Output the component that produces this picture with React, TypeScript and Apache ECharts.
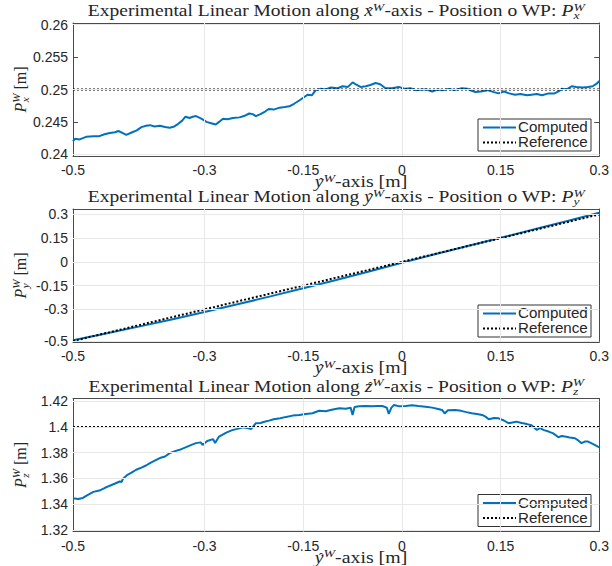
import React, { useEffect, useRef } from "react";
import * as echarts from "echarts";

// ---- ticks ----
const xTicks = [-0.5, -0.3, -0.15, 0, 0.15, 0.3];
const yTicks1 = [0.24, 0.245, 0.25, 0.255, 0.26];
const yTicks2 = [-0.5, -0.3, -0.15, 0, 0.15, 0.3];
const yTicks3 = [1.32, 1.34, 1.36, 1.38, 1.4, 1.42];

// ---- plot 1: P_x ----
const p1X = [-0.5, -0.497, -0.49, -0.48, -0.469, -0.46, -0.452, -0.444, -0.436, -0.431, -0.425, -0.419, -0.41, -0.403, -0.396, -0.389, -0.383, -0.376, -0.368, -0.36, -0.353, -0.346, -0.34, -0.334, -0.329, -0.323, -0.318, -0.313, -0.305, -0.297, -0.29, -0.283, -0.278, -0.272, -0.265, -0.257, -0.247, -0.24, -0.232, -0.227, -0.222, -0.215, -0.208, -0.202, -0.195, -0.186, -0.178, -0.171, -0.164, -0.156, -0.149, -0.143, -0.137, -0.131, -0.124, -0.116, -0.108, -0.098, -0.09, -0.082, -0.075, -0.07, -0.063, -0.055, -0.048, -0.04, -0.033, -0.025, -0.015, -0.005, 0.005, 0.013, 0.021, 0.03, 0.038, 0.046, 0.054, 0.063, 0.071, 0.08, 0.091, 0.1, 0.106, 0.112, 0.12, 0.13, 0.14, 0.147, 0.155, 0.163, 0.172, 0.18, 0.19, 0.197, 0.205, 0.213, 0.223, 0.232, 0.238, 0.243, 0.25, 0.258, 0.265, 0.275, 0.283, 0.29, 0.296, 0.3];
const p1Y = [0.242, 0.2424, 0.2423, 0.2427, 0.2428, 0.2428, 0.2431, 0.2433, 0.2434, 0.2436, 0.2433, 0.243, 0.2434, 0.2437, 0.2442, 0.2444, 0.2445, 0.2443, 0.2444, 0.2442, 0.2441, 0.2443, 0.2447, 0.2452, 0.2458, 0.2456, 0.2458, 0.2459, 0.2455, 0.245, 0.2448, 0.2446, 0.245, 0.2455, 0.2454, 0.2456, 0.2457, 0.2459, 0.2463, 0.2462, 0.2459, 0.2462, 0.2466, 0.247, 0.2469, 0.2472, 0.2473, 0.2474, 0.2478, 0.2483, 0.2488, 0.2492, 0.2491, 0.2499, 0.2501, 0.25, 0.2503, 0.2502, 0.2505, 0.2504, 0.2511, 0.2508, 0.2504, 0.2505, 0.2507, 0.251, 0.2508, 0.2502, 0.2502, 0.2504, 0.2501, 0.2502, 0.2499, 0.25, 0.25, 0.2497, 0.25, 0.2499, 0.2501, 0.2499, 0.2502, 0.2501, 0.2498, 0.2496, 0.2497, 0.2499, 0.2496, 0.2494, 0.2497, 0.2494, 0.2492, 0.2493, 0.2491, 0.2492, 0.2493, 0.2491, 0.2494, 0.2494, 0.2497, 0.2501, 0.25, 0.2505, 0.2504, 0.2503, 0.2504, 0.2505, 0.2509, 0.2513];
const p1RefX = [-0.5, 0.3];
const p1RefY = [0.25, 0.25];

// ---- plot 2: P_y ----
const p2X = [-0.5, -0.45, -0.4, -0.35, -0.3, -0.25, -0.2, -0.15, -0.1, -0.05, 0, 0.05, 0.1, 0.15, 0.2, 0.25, 0.3];
const p2Y = [-0.495, -0.452, -0.409, -0.364, -0.317, -0.268, -0.218, -0.167, -0.115, -0.061, -0.005, 0.048, 0.1, 0.152, 0.204, 0.257, 0.31];
const p2RefX = [-0.5, 0.3];
const p2RefY = [-0.5, 0.3];

// ---- plot 3: P_z ----
const p3X = [-0.5, -0.492, -0.485, -0.478, -0.469, -0.46, -0.452, -0.444, -0.436, -0.429, -0.426, -0.424, -0.418, -0.411, -0.404, -0.396, -0.389, -0.383, -0.375, -0.368, -0.36, -0.353, -0.346, -0.338, -0.328, -0.32, -0.313, -0.306, -0.303, -0.296, -0.287, -0.284, -0.278, -0.267, -0.258, -0.25, -0.242, -0.235, -0.229, -0.222, -0.215, -0.209, -0.202, -0.195, -0.185, -0.176, -0.166, -0.156, -0.146, -0.136, -0.126, -0.116, -0.105, -0.095, -0.085, -0.078, -0.075, -0.072, -0.065, -0.056, -0.045, -0.037, -0.03, -0.023, -0.02, -0.016, -0.012, -0.004, 0.006, 0.015, 0.025, 0.036, 0.046, 0.055, 0.061, 0.065, 0.07, 0.081, 0.09, 0.098, 0.106, 0.114, 0.122, 0.127, 0.132, 0.14, 0.147, 0.155, 0.162, 0.168, 0.174, 0.182, 0.19, 0.197, 0.201, 0.205, 0.21, 0.216, 0.223, 0.23, 0.238, 0.243, 0.248, 0.255, 0.263, 0.268, 0.273, 0.278, 0.283, 0.29, 0.298, 0.3];
const p3Y = [1.3445, 1.344, 1.3448, 1.347, 1.3495, 1.3505, 1.3525, 1.3543, 1.356, 1.3576, 1.3572, 1.3598, 1.3625, 1.3645, 1.3667, 1.3684, 1.37, 1.3719, 1.374, 1.3758, 1.377, 1.3796, 1.381, 1.3822, 1.3843, 1.386, 1.3874, 1.388, 1.386, 1.389, 1.3905, 1.3875, 1.3925, 1.3956, 1.3975, 1.3985, 1.3998, 1.3992, 1.3984, 1.4029, 1.403, 1.404, 1.4049, 1.406, 1.4068, 1.4078, 1.4088, 1.4093, 1.41, 1.4106, 1.4126, 1.4122, 1.4135, 1.4145, 1.4142, 1.415, 1.4093, 1.4155, 1.416, 1.4163, 1.416, 1.4162, 1.4163, 1.415, 1.4101, 1.415, 1.4171, 1.416, 1.4163, 1.4168, 1.4162, 1.4157, 1.415, 1.414, 1.4132, 1.4105, 1.413, 1.4132, 1.4125, 1.4115, 1.4106, 1.41, 1.4093, 1.408, 1.406, 1.407, 1.4067, 1.405, 1.4029, 1.4035, 1.4041, 1.403, 1.4022, 1.4013, 1.3995, 1.3977, 1.399, 1.3975, 1.3964, 1.395, 1.392, 1.393, 1.3925, 1.3918, 1.3912, 1.3895, 1.3874, 1.3886, 1.3886, 1.3868, 1.3847, 1.3842];
const p3RefX = [-0.5, 0.3];
const p3RefY = [1.4, 1.4];

const seriesNames = ["Computed", "Reference"];
const titleAxes = ["x", "y", "z"];
const subs = ["x", "y", "z"];

const BLUE = "#0072BD";
const AX = "#4a4a4a";
const GRIDC = "#e8e8e8";
const TXT = "#262626";
const SANS = "Liberation Sans, Arial, sans-serif";
const SERIF = "Liberation Serif, Times New Roman, serif";

const zip = (xs: number[], ys: number[]) => xs.map((x, i) => [x, ys[i]]);

const panels = [
  { top: 23, yMin: 0.23974, yMax: 0.26026, yTicks: yTicks1, cx: p1X, cy: p1Y, rx: p1RefX, ry: p1RefY },
  { top: 209, yMin: -0.506, yMax: 0.334, yTicks: yTicks2, cx: p2X, cy: p2Y, rx: p2RefX, ry: p2RefY },
  { top: 398.5, yMin: 1.3187, yMax: 1.4221, yTicks: yTicks3, cx: p3X, cy: p3Y, rx: p3RefX, ry: p3RefY },
];
const LEFT = 73;
const WIDTH = 526.5;
const HEIGHT = 133;
const FS = 16;
const SUB = FS * 0.7;
const TSCALE = 1.22;
const XSCALE = 1.24;

const richStyles = (size: number) => ({
  n: { fontFamily: SERIF, fontSize: size, lineHeight: 19, fill: TXT, color: TXT },
  i: { fontFamily: SERIF, fontSize: size, fontStyle: "italic", lineHeight: 19, fill: TXT, color: TXT },
  s: { fontFamily: SERIF, fontSize: size * 0.7, fontStyle: "italic", lineHeight: 10, verticalAlign: "top", fill: TXT, color: TXT },
});

export default function App() {
  const ref = useRef<HTMLDivElement>(null);
  useEffect(() => {
    if (!ref.current) return;
    const chart = echarts.init(ref.current, undefined, { renderer: "svg" });
    const grid: any[] = [];
    const xAxis: any[] = [];
    const yAxis: any[] = [];
    const series: any[] = [];
    const graphic: any[] = [];

    const ctx = document.createElement("canvas").getContext("2d");
    const w = (t: string, size: number, italic = false) => {
      if (!ctx) return t.length * size * 0.45;
      ctx.font = `${italic ? "italic " : ""}${size}px ${SERIF}`;
      return ctx.measureText(t).width;
    };
    const hat = (x: number, y: number) => ({
      type: "text",
      x,
      y,
      z: 20,
      style: { text: "\u02C6", font: `14px ${SERIF}`, fill: TXT, align: "center", verticalAlign: "middle" },
    });
    const subText = (t: string, x: number, y: number, sx = 1) => ({
      type: "text",
      x,
      y,
      scaleX: sx,
      z: 20,
      style: { text: t, font: `italic ${SUB}px ${SERIF}`, fill: TXT, align: "left", verticalAlign: "middle" },
    });

    panels.forEach((p, k) => {
      grid.push({ left: LEFT, top: p.top, width: WIDTH, height: HEIGHT, containLabel: false });
      const baseX = {
        type: "value",
        gridIndex: k,
        min: -0.5,
        max: 0.3,
        axisLine: { show: true, onZero: false, lineStyle: { color: AX, width: 1 } },
        axisTick: { show: true, inside: true, length: 5, customValues: xTicks, lineStyle: { color: AX } },
        splitLine: { show: false },
      };
      xAxis.push({
        ...baseX,
        position: "bottom",
        axisLabel: { customValues: xTicks, margin: 7, color: TXT, fontSize: 14, fontFamily: SANS, formatter: (v: number) => String(v) },
      });
      xAxis.push({ ...baseX, position: "top", axisLabel: { show: false } });
      const baseY = {
        type: "value",
        gridIndex: k,
        min: p.yMin,
        max: p.yMax,
        axisLine: { show: true, onZero: false, lineStyle: { color: AX, width: 1 } },
        axisTick: { show: true, inside: true, length: 5, customValues: p.yTicks, lineStyle: { color: AX } },
        splitLine: { show: false },
      };
      yAxis.push({
        ...baseY,
        position: "left",
        axisLabel: { customValues: p.yTicks, margin: 5, color: TXT, fontSize: 14, fontFamily: SANS, formatter: (v: number) => String(+v.toFixed(4)) },
      });
      yAxis.push({ ...baseY, position: "right", axisLabel: { show: false } });

      const xi = 2 * k;
      const yi = 2 * k;
      series.push({
        type: "line",
        xAxisIndex: xi,
        yAxisIndex: yi,
        data: zip(p.rx, p.ry),
        lineStyle: { opacity: 0 },
        symbol: "none",
        silent: true,
        z: 1,
        markLine: {
          silent: true,
          symbol: ["none", "none"],
          label: { show: false },
          lineStyle: { color: GRIDC, type: "solid", width: 1 },
          data: [
            ...xTicks.filter((v) => v > -0.5 && v < 0.3).map((v) => ({ xAxis: v })),
            ...p.yTicks.map((v) => ({ yAxis: v })),
          ],
        },
      });
      series.push({
        name: seriesNames[0],
        type: "line",
        xAxisIndex: xi,
        yAxisIndex: yi,
        data: zip(p.cx, p.cy),
        symbol: "none",
        lineStyle: { color: BLUE, width: 2 },
        z: 3,
      });
      series.push({
        name: seriesNames[1],
        type: "line",
        xAxisIndex: xi,
        yAxisIndex: yi,
        data: zip(p.rx, p.ry),
        symbol: "none",
        lineStyle: { color: "#000", width: 2, type: [2, 2] },
        z: 4,
      });

      const bottom = p.top + HEIGHT;
      // title
      const ty = p.top - 12;
      const tcx = LEFT + WIDTH / 2;
      graphic.push({
        type: "text",
        x: tcx,
        y: ty,
        scaleX: TSCALE,
        style: {
          text: `{n|Experimental Linear Motion along }{i|${titleAxes[k]}}{s|W}{n|-axis - Position o WP: }{i|P}{s|W}`,
          rich: richStyles(FS),
          align: "center",
          verticalAlign: "middle",
        },
      });
      const pre = w("Experimental Linear Motion along ", FS);
      const lw = w(titleAxes[k], FS, true);
      const wW = w("W", SUB, true);
      const total = pre + lw + wW + w("-axis - Position o WP: ", FS) + w("P", FS, true) + wW;
      const tLeft = tcx - (total * TSCALE) / 2;
      graphic.push(hat(tLeft + (pre + lw / 2 + 1.5) * TSCALE, ty + 1));
      graphic.push(subText(subs[k], tLeft + (total - wW) * TSCALE, ty + 4.5, TSCALE));

      // x label
      const xy = bottom + 26;
      const yw = w("y", FS, true);
      const tot2 = yw + wW + w("-axis [m]", FS);
      graphic.push({
        type: "text",
        x: 361,
        y: xy,
        scaleX: XSCALE,
        style: {
          text: `{i|y}{s|W}{n|-axis [m]}`,
          rich: richStyles(FS),
          align: "center",
          verticalAlign: "middle",
        },
      });
      graphic.push(hat(361 - (tot2 * XSCALE) / 2 + (yw / 2 + 1.5) * XSCALE, xy + 1));

      // y label (rotated group)
      const wP = w("P", FS, true);
      const tot3 = wP + wW + w(" [m]", FS);
      graphic.push({
        type: "group",
        x: 20,
        y: p.top + HEIGHT / 2,
        rotation: Math.PI / 2,
        children: [
          {
            type: "text",
            x: 0,
            y: 0,
            style: {
              text: `{i|P}{s|W}{n| [m]}`,
              rich: richStyles(FS),
              align: "center",
              verticalAlign: "middle",
            },
          },
          subText(subs[k], -tot3 / 2 + wP + 0.5, 4.5),
        ],
      });
      // legend
      const lx = 478;
      const ly = bottom - 37;
      graphic.push({
        type: "group",
        x: lx,
        y: ly,
        z: 10,
        children: [
          { type: "rect", shape: { x: 0, y: 0, width: 113, height: 32 }, style: { fill: "#fff", stroke: "#333", lineWidth: 1 } },
          { type: "line", shape: { x1: 5, y1: 8.5, x2: 38, y2: 8.5 }, style: { stroke: BLUE, lineWidth: 2 } },
          { type: "line", shape: { x1: 5, y1: 23.5, x2: 38, y2: 23.5 }, style: { stroke: "#000", lineWidth: 2, lineDash: [2, 2] } },
          { type: "text", x: 40, y: 8.5, scaleX: 1.08, style: { text: seriesNames[0], font: `14px ${SANS}`, fill: TXT, verticalAlign: "middle", align: "left" } },
          { type: "text", x: 40, y: 23.5, scaleX: 1.08, style: { text: seriesNames[1], font: `14px ${SANS}`, fill: TXT, verticalAlign: "middle", align: "left" } },
        ],
      });
    });

    chart.setOption({
      animation: false,
      backgroundColor: "#fff",
      grid,
      xAxis,
      yAxis,
      series,
      graphic,
    });
    return () => chart.dispose();
  }, []);
  return <div ref={ref} style={{ width: 612, height: 566, position: "absolute", left: 0, top: 0 }} />;
}
